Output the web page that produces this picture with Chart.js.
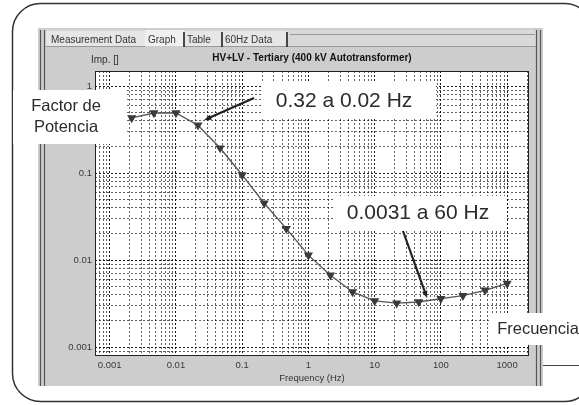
<!DOCTYPE html>
<html>
<head>
<meta charset="utf-8">
<script src="https://cdn.jsdelivr.net/npm/chart.js@4.4.0/dist/chart.umd.min.js"></script>
<style>
  html, body { margin: 0; padding: 0; background: #fff; }
  canvas { display: block; }
</style>
</head>
<body>
<canvas id="grafico" width="579" height="405"></canvas>
<script>
// Datos (factor de potencia vs frecuencia, 3 puntos por década)
const frecuencias = [0.00215, 0.00464, 0.01, 0.0215, 0.0464, 0.1, 0.215, 0.464, 1, 2.15, 4.64, 10, 21.5, 46.4, 100, 215, 464, 1000];
const factorPotencia = [0.43, 0.49, 0.49, 0.355, 0.194, 0.095, 0.045, 0.023, 0.0114, 0.0067, 0.0043, 0.0034, 0.0032, 0.0033, 0.0036, 0.0039, 0.0045, 0.0054];
const etiquetasX = ['0.001', '0.01', '0.1', '1', '10', '100', '1000'];
const etiquetasY = ['0.001', '0.01', '0.1', '1'];
const pestanas = ['Measurement Data', 'Graph', 'Table', '60Hz Data'];
const titulo = 'HV+LV - Tertiary (400 kV Autotransformer)';

const fuente = '"Liberation Sans", Arial, sans-serif';

// Ticks 1..9 por década, para que salga la rejilla densa
function ticksLog(min, max) {
  const out = [];
  for (let e = Math.floor(Math.log10(min)); e <= Math.ceil(Math.log10(max)); e++) {
    for (let m = 1; m <= 9; m++) {
      const v = Number((m * Math.pow(10, e)).toPrecision(3));
      if (v >= min && v <= max) out.push({ value: v, major: m === 1 });
    }
  }
  return out;
}

function rectRedondeado(ctx, x, y, w, h, r) {
  ctx.beginPath();
  ctx.moveTo(x + r, y);
  ctx.arcTo(x + w, y, x + w, y + h, r);
  ctx.arcTo(x + w, y + h, x, y + h, r);
  ctx.arcTo(x, y + h, x, y, r);
  ctx.arcTo(x, y, x + w, y, r);
  ctx.closePath();
}

function flecha(ctx, x1, y1, x2, y2) {
  const ang = Math.atan2(y2 - y1, x2 - x1);
  ctx.save();
  ctx.strokeStyle = '#222';
  ctx.fillStyle = '#222';
  ctx.lineWidth = 2.2;
  ctx.beginPath();
  ctx.moveTo(x1, y1);
  ctx.lineTo(x2 - 4 * Math.cos(ang), y2 - 4 * Math.sin(ang));
  ctx.stroke();
  ctx.beginPath();
  ctx.moveTo(x2, y2);
  ctx.lineTo(x2 - 8 * Math.cos(ang - 0.35), y2 - 8 * Math.sin(ang - 0.35));
  ctx.lineTo(x2 - 8 * Math.cos(ang + 0.35), y2 - 8 * Math.sin(ang + 0.35));
  ctx.closePath();
  ctx.fill();
  ctx.restore();
}

function cajaTexto(ctx, x, y, w, h, lineas, size, cx, cy0, dy) {
  ctx.save();
  ctx.fillStyle = '#fff';
  ctx.fillRect(x, y, w, h);
  ctx.fillStyle = '#2b2b2b';
  ctx.font = size + 'px ' + fuente;
  ctx.textAlign = 'center';
  ctx.textBaseline = 'middle';
  lineas.forEach((t, i) => ctx.fillText(t, cx, cy0 + i * dy));
  ctx.restore();
}

// Fondo: marco redondeado y "ventana" del programa
const ventana = {
  id: 'ventana',
  beforeDraw(chart) {
    const ctx = chart.ctx;
    const a = chart.chartArea;
    ctx.save();
    ctx.fillStyle = '#fff';
    ctx.fillRect(0, 0, chart.width, chart.height);

    // marco exterior
    rectRedondeado(ctx, 12.5, 3.5, 580, 398, 28);
    ctx.strokeStyle = '#333';
    ctx.lineWidth = 1.5;
    ctx.stroke();

    // cuerpo gris de la ventana
    ctx.fillStyle = '#cdcdcd';
    ctx.fillRect(38, 28, 505, 358);
    // barra de pestañas
    ctx.fillStyle = '#d9d9d9';
    ctx.fillRect(46, 30, 490, 16);
    ctx.fillStyle = '#e6e6e6';
    ctx.fillRect(46, 31, 240, 15);
    ctx.fillStyle = '#f0f0f0';
    ctx.fillRect(145, 30, 39, 16);
    ctx.strokeStyle = '#999';
    ctx.lineWidth = 1;
    ctx.beginPath();
    ctx.moveTo(290, 34.5); ctx.lineTo(535, 34.5);
    ctx.moveTo(46, 46.5); ctx.lineTo(145, 46.5);
    ctx.moveTo(184, 46.5); ctx.lineTo(536, 46.5);
    ctx.stroke();

    // separadores de pestañas
    ctx.strokeStyle = '#222';
    ctx.lineWidth = 1.6;
    ctx.beginPath();
    [184, 222, 287].forEach(x => { ctx.moveTo(x, 32); ctx.lineTo(x, 47); });
    ctx.stroke();

    ctx.fillStyle = '#333';
    ctx.font = '10px ' + fuente;
    ctx.textBaseline = 'middle';
    ctx.textAlign = 'left';
    const xs = [51, 148, 187, 225];
    pestanas.forEach((t, i) => ctx.fillText(t, xs[i], 40));
    ctx.fillText('Imp. []', 91, 60);

    // bordes dobles izquierda y derecha
    ctx.strokeStyle = '#555';
    ctx.lineWidth = 1.2;
    ctx.beginPath();
    [40.5, 44.5].forEach(x => { ctx.moveTo(x, 30); ctx.lineTo(x, 386); });
    [536.5, 540.5].forEach(x => { ctx.moveTo(x, 30); ctx.lineTo(x, 386); });
    ctx.stroke();

    // línea suelta a la derecha
    ctx.strokeStyle = '#444';
    ctx.lineWidth = 1;
    ctx.beginPath();
    ctx.moveTo(543, 365.5); ctx.lineTo(579, 365.5);
    ctx.stroke();

    // área del gráfico
    ctx.fillStyle = '#fff';
    ctx.fillRect(a.left, a.top, a.right - a.left, a.bottom - a.top);
    ctx.restore();
  },
  afterDatasetsDraw(chart) {
    const ctx = chart.ctx;
    const a = chart.chartArea;
    ctx.save();
    ctx.strokeStyle = '#222';
    ctx.lineWidth = 1;
    ctx.strokeRect(a.left + 0.5, a.top + 0.5, a.right - a.left - 1, a.bottom - a.top - 1);
    ctx.restore();
  },
  afterDraw(chart) {
    const ctx = chart.ctx;
    const x = chart.scales.x, y = chart.scales.y;

    cajaTexto(ctx, 13, 90, 114, 54, ['Factor de', 'Potencia'], 16.5, 66, 106, 21);
    cajaTexto(ctx, 262, 83, 174, 34, ['0.32 a 0.02 Hz'], 21, 344, 101, 0);
    cajaTexto(ctx, 335, 196, 170, 33, ['0.0031 a 60 Hz'], 21, 418, 213, 0);
    cajaTexto(ctx, 490, 313, 95, 32, ['Frecuencia'], 16.5, 538, 329, 0);

    flecha(ctx, 254, 98, x.getPixelForValue(frecuencias[3]) + 6, y.getPixelForValue(factorPotencia[3]) - 5);
    flecha(ctx, 403, 231, x.getPixelForValue(60) + 1, y.getPixelForValue(0.0031) - 6);
  }
};

const ejeComun = (etiquetas) => ({
  type: 'logarithmic',
  afterBuildTicks: s => { s.ticks = ticksLog(s.min, s.max); },
  ticks: {
    autoSkip: false,
    maxRotation: 0,
    color: '#3a3a3a',
    font: { size: 9.5, family: fuente },
    callback: v => etiquetas.includes(String(v)) ? String(v) : ''
  },
  grid: {
    color: c => (c.tick && c.tick.major) ? 'rgba(0,0,0,0.9)' : 'rgba(0,0,0,0.62)',
    lineWidth: 1,
    drawTicks: false
  },
  border: { display: false, dash: [2, 2] }
});

const ejeX = ejeComun(etiquetasX);
ejeX.min = 0.0006;
ejeX.max = 2140;
ejeX.afterFit = s => { s.height = 30; };
ejeX.ticks.padding = 4;
ejeX.title = { display: true, text: 'Frequency (Hz)', color: '#333', font: { size: 9.5, family: fuente }, padding: { top: 0, bottom: 2 } };

const ejeY = ejeComun(etiquetasY);
ejeY.min = 0.00079;
ejeY.max = 1.49;
ejeY.afterFit = s => { s.width = 30; };
ejeY.ticks.padding = 3;

new Chart(document.getElementById('grafico'), {
  type: 'line',
  data: {
    datasets: [{
      data: frecuencias.map((f, i) => ({ x: f, y: factorPotencia[i] })),
      borderColor: '#555',
      borderWidth: 1.3,
      pointStyle: 'triangle',
      rotation: 180,
      pointRadius: 4,
      pointBackgroundColor: '#3a3a3a',
      pointBorderColor: '#3a3a3a',
      tension: 0
    }]
  },
  options: {
    responsive: false,
    animation: false,
    layout: { padding: { left: 65, right: 50, top: 0, bottom: 19 } },
    scales: { x: ejeX, y: ejeY },
    plugins: {
      legend: { display: false },
      tooltip: { enabled: false },
      title: {
        display: true,
        text: titulo,
        fullSize: false,
        color: '#111',
        font: { size: 10, weight: 'bold', family: fuente },
        padding: { top: 52, bottom: 7 }
      }
    }
  },
  plugins: [ventana]
});
</script>
</body>
</html>
